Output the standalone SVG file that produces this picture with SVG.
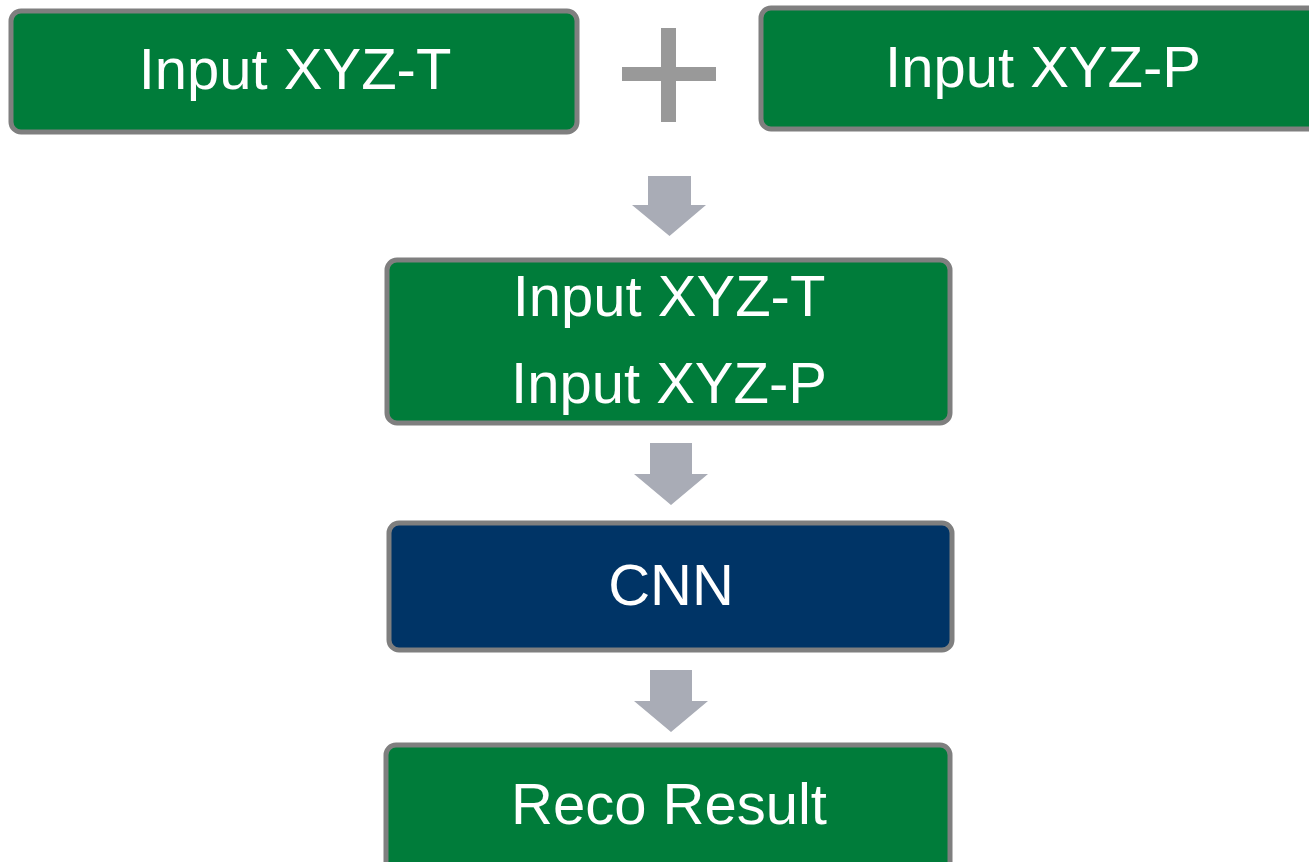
<svg xmlns="http://www.w3.org/2000/svg" width="1309" height="862" viewBox="0 0 1309 862">
  <style>
    .box { stroke: #7f7f7f; stroke-width: 5; }
    .green { fill: #007c3a; }
    .navy { fill: #003466; }
    .label { fill: #ffffff; font-family: "Liberation Sans", Arial, sans-serif; font-size: 58px; text-anchor: middle; }
    .arrow { fill: #a9acb6; }
    .plus { fill: #999999; }
  </style>
  <rect width="1309" height="862" fill="#ffffff"/>

  <g id="input-t">
    <rect class="box green" x="11" y="11" width="566" height="121" rx="10"/>
    <text class="label" x="295" y="89">Input XYZ-T</text>
  </g>

  <g id="plus">
    <rect class="plus" x="622" y="67" width="94" height="14"/>
    <rect class="plus" x="661" y="28" width="15" height="94"/>
  </g>

  <g id="input-p">
    <rect class="box green" x="761" y="8" width="560" height="121" rx="10"/>
    <text class="label" x="1043" y="87">Input XYZ-P</text>
  </g>

  <g id="combined">
    <rect class="box green" x="387" y="260" width="563" height="163" rx="10"/>
    <text class="label" x="669" y="316">Input XYZ-T</text>
    <text class="label" x="669" y="403">Input XYZ-P</text>
  </g>

  <g id="cnn">
    <rect class="box navy" x="389" y="523" width="563" height="127" rx="10"/>
    <text class="label" x="671" y="605">CNN</text>
  </g>

  <g id="result">
    <rect class="box green" x="386" y="745" width="564" height="130" rx="10"/>
    <text class="label" x="669" y="824">Reco Result</text>
  </g>

  <g id="connectors">
    <path class="arrow" d="M648,176 H691 V205 H706 L669.5,236 L632,205 H648 Z"/>
    <path class="arrow" d="M650,443 H692 V474 H708 L671,505 L634,474 H650 Z"/>
    <path class="arrow" d="M650,670 H692 V701 H708 L671,732 L634,701 H650 Z"/>
  </g>
</svg>
